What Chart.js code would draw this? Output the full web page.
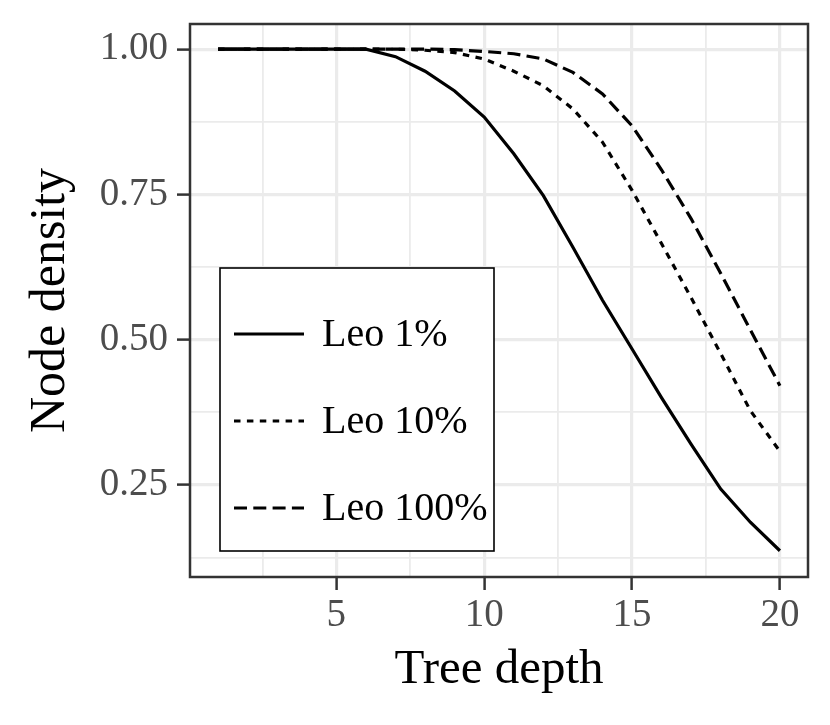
<!DOCTYPE html>
<html><head><meta charset="utf-8">
<script src="https://cdn.jsdelivr.net/npm/chart.js@4"></script>
<style>html,body{margin:0;padding:0;background:#fff;overflow:hidden}</style>
</head><body>
<canvas id="c" width="830" height="725"></canvas>
<script>
const depths = [1,2,3,4,5,6,7,8,9,10,11,12,13,14,15,16,17,18,19,20];
const leo1   = [1,1,1,1,1,1,0.987,0.962,0.928,0.883,0.820,0.748,0.659,0.568,0.484,0.400,0.320,0.243,0.186,0.137];
const leo10  = [1,1,1,1,1,1,1.000,0.998,0.994,0.983,0.962,0.937,0.897,0.840,0.757,0.665,0.572,0.476,0.378,0.308];
const leo100 = [1,1,1,1,1,1,1.000,1.000,0.999,0.996,0.992,0.983,0.960,0.923,0.868,0.792,0.708,0.614,0.517,0.421];
const seriesLabels = ['Leo 1%','Leo 10%','Leo 100%'];
const xMajorTicks = [5,10,15,20];
const xMinorTicks = [2.5,7.5,12.5,17.5];
const yMajorTicks = [0.25,0.50,0.75,1.00];
const yMinorTicks = [0.125,0.375,0.625,0.875];
const xTitle = 'Tree depth';
const yTitle = 'Node density';

const SERIF = "'Liberation Serif','Times New Roman',serif";
const dashes = [[], [6.5,6.4], [13,6.3]];
const seriesData = [leo1, leo10, leo100];

const isMajor = (v, list) => list.some(m => Math.abs(m - v) < 1e-9);

const borderPlugin = {
  id: 'panelBorder',
  afterDatasetsDraw(chart) {
    const {ctx, chartArea: a} = chart;
    ctx.save();
    ctx.strokeStyle = '#333333';
    ctx.lineWidth = 2.5;
    ctx.strokeRect(a.left, a.top, a.right - a.left, a.bottom - a.top);
    ctx.restore();
  }
};

const legendPlugin = {
  id: 'insideLegend',
  afterDraw(chart) {
    const {ctx, chartArea: a} = chart;
    const bx = a.left + 30, by = a.top + 244, bw = 274, bh = 283;
    ctx.save();
    ctx.fillStyle = '#ffffff';
    ctx.fillRect(bx, by, bw, bh);
    ctx.strokeStyle = '#000000';
    ctx.lineWidth = 1.6;
    ctx.strokeRect(bx, by, bw, bh);
    chart.data.datasets.forEach((ds, i) => {
      const y = by + 66 + i * 87;
      ctx.beginPath();
      ctx.setLineDash(ds.borderDash || []);
      ctx.lineWidth = ds.borderWidth;
      ctx.strokeStyle = ds.borderColor;
      ctx.lineCap = 'butt';
      ctx.moveTo(bx + 14, y);
      ctx.lineTo(bx + 84, y);
      ctx.stroke();
      ctx.setLineDash([]);
      ctx.fillStyle = '#000000';
      ctx.font = "40px " + SERIF;
      ctx.textBaseline = 'middle';
      ctx.textAlign = 'left';
      ctx.fillText(ds.label, bx + 102, y + 1);
    });
    ctx.restore();
  }
};

new Chart(document.getElementById('c'), {
  type: 'line',
  data: {
    datasets: seriesData.map((vals, i) => ({
      label: seriesLabels[i],
      data: depths.map((d, j) => ({x: d, y: vals[j]})),
      borderColor: '#000000',
      borderWidth: 3.2,
      borderDash: dashes[i],
      borderCapStyle: 'butt',
      pointRadius: 0,
      tension: 0,
      fill: false
    }))
  },
  options: {
    responsive: false,
    animation: false,
    devicePixelRatio: 1,
    layout: {padding: {top: 24, right: 22, left: 0, bottom: 0}},
    plugins: {legend: {display: false}, tooltip: {enabled: false}},
    scales: {
      x: {
        type: 'linear',
        min: 0.05, max: 20.95,
        afterBuildTicks(s) { s.ticks = [...xMinorTicks, ...xMajorTicks].sort((p,q)=>p-q).map(v => ({value: v})); },
        afterFit(s) { s.height = 148; s.paddingLeft = 0; s.paddingRight = 0; },
        grid: {
          color: '#ebebeb',
          lineWidth: c => isMajor(c.tick.value, xMajorTicks) ? 3.2 : 1.8,
          drawTicks: true,
          tickLength: 13,
          tickWidth: 2.5,
          tickColor: c => isMajor(c.tick.value, xMajorTicks) ? '#333333' : 'rgba(0,0,0,0)'
        },
        border: {display: false},
        ticks: {
          autoSkip: false,
          maxRotation: 0,
          padding: 2.5,
          color: '#4d4d4d',
          font: {family: SERIF, size: 39},
          callback: v => isMajor(v, xMajorTicks) ? String(v) : ''
        },
        title: {display: true, text: xTitle, color: '#000000', font: {family: SERIF, size: 49}, padding: {top: 0, bottom: 25}}
      },
      y: {
        type: 'linear',
        min: 0.0918, max: 1.0432,
        afterBuildTicks(s) { s.ticks = [...yMinorTicks, ...yMajorTicks].sort((p,q)=>p-q).map(v => ({value: v})); },
        afterFit(s) { s.width = 190; s.paddingTop = 0; s.paddingBottom = 0; },
        grid: {
          color: '#ebebeb',
          lineWidth: c => isMajor(c.tick.value, yMajorTicks) ? 3.2 : 1.8,
          drawTicks: true,
          tickLength: 13,
          tickWidth: 2.5,
          tickColor: c => isMajor(c.tick.value, yMajorTicks) ? '#333333' : 'rgba(0,0,0,0)'
        },
        border: {display: false},
        ticks: {
          autoSkip: false,
          padding: 9,
          color: '#4d4d4d',
          font: {family: SERIF, size: 39},
          callback: v => isMajor(v, yMajorTicks) ? v.toFixed(2) : ''
        },
        title: {display: true, text: yTitle, color: '#000000', font: {family: SERIF, size: 50}, padding: {top: 21, bottom: 0}}
      }
    }
  },
  plugins: [borderPlugin, legendPlugin]
});
</script>
</body></html>
